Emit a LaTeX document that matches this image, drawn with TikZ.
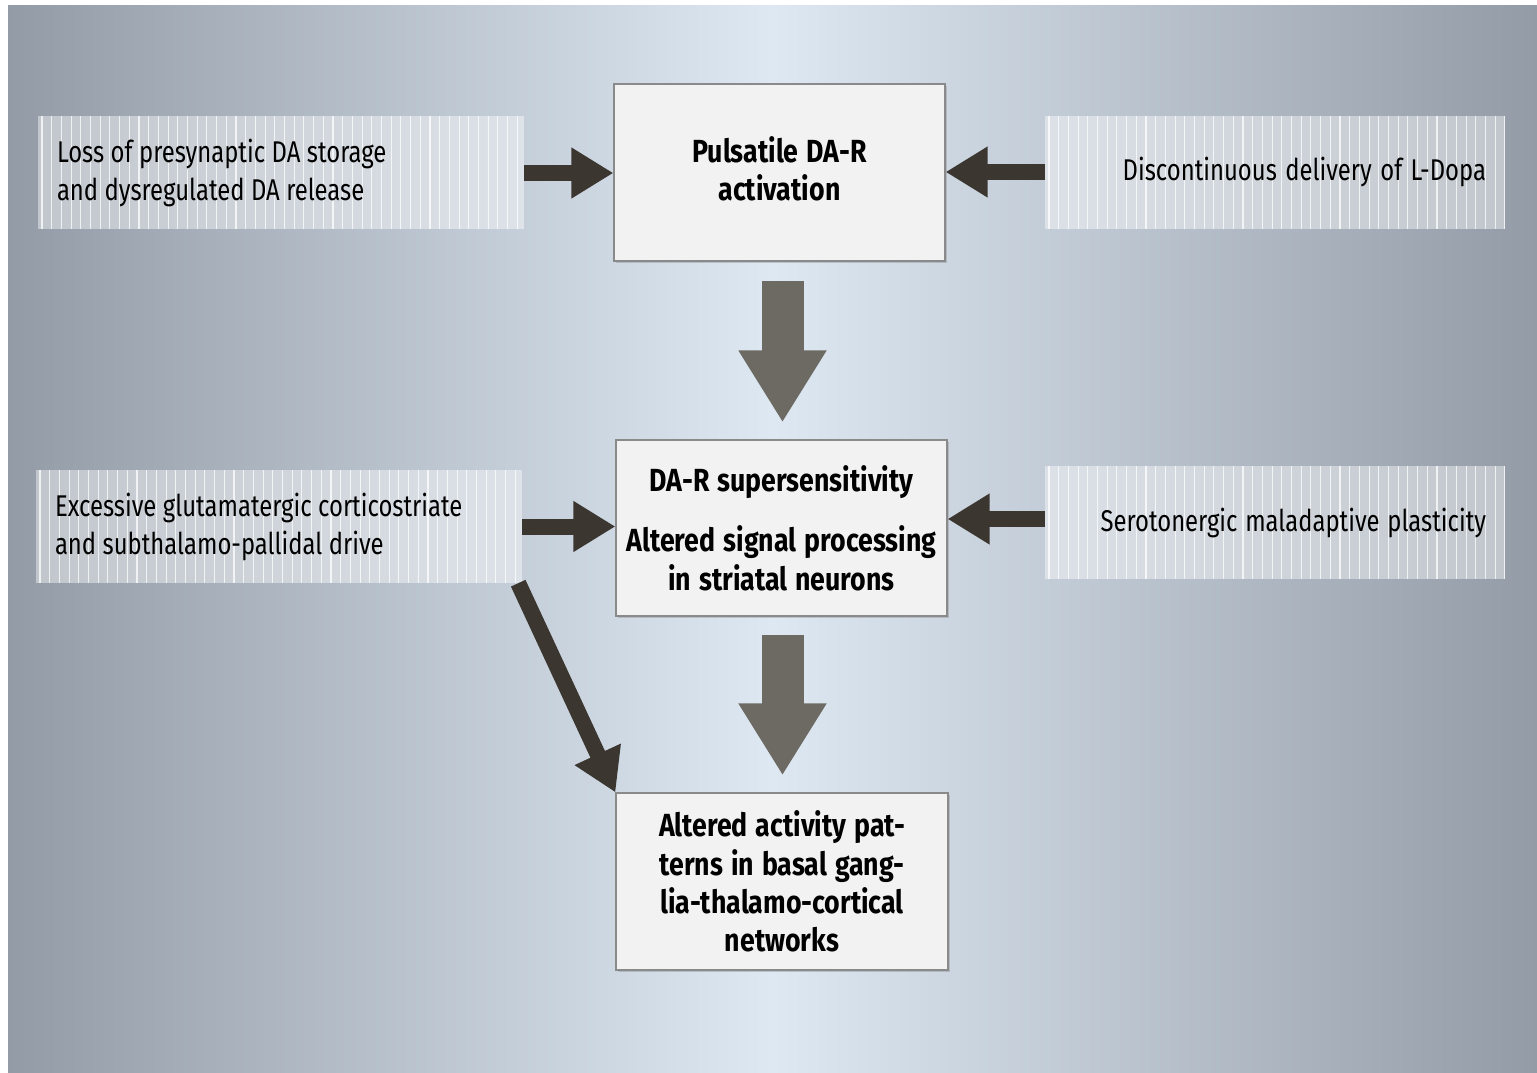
\documentclass[tikz,border=0pt]{standalone}
\usepackage{fontspec}
\setmainfont{Fira Sans}[FakeStretch=0.795]
\newfontfamily\boldfam{Fira Sans}[FakeStretch=0.835]
\usetikzlibrary{arrows.meta,shadows,calc}
\definecolor{bgedge}{HTML}{939CA6}
\definecolor{bgmid}{HTML}{DEE8F2}
\definecolor{darkarrow}{HTML}{3B3630}
\definecolor{grayarrow}{HTML}{6D6A63}
\definecolor{boxfill}{HTML}{F2F2F2}
\definecolor{boxline}{HTML}{8A8A8A}
\tikzset{
  stripebox/.style={minimum height=113pt, inner ysep=0pt, inner xsep=19pt,
    fill=white, fill opacity=0.42, text opacity=1,
    font=\fontsize{30}{38}\selectfont,
    execute at begin node={\spaceskip=6.5pt plus 2pt minus 1pt\relax},
    path picture={
      \foreach \i in {0,...,52}{
        \draw[white, opacity=0.75, line width=1.1pt]
          ([xshift=\i*9.7pt+4pt]path picture bounding box.north west) --
          ([xshift=\i*9.7pt+4pt]path picture bounding box.south west);
      }
    }},
  mainbox/.style={draw=boxline, line width=1.2pt, fill=boxfill,
    minimum width=331pt, minimum height=177pt, inner sep=0pt, align=center,
    font=\boldfam\bfseries\fontsize{32}{38.4}\selectfont,
    execute at begin node={\spaceskip=8pt plus 2pt minus 1pt\relax},
    drop shadow={opacity=0.35, shadow xshift=2pt, shadow yshift=-2pt}},
  darrow/.style={draw=darkarrow, line width=16pt,
    -{Triangle[width=48pt,length=42pt]}},
  garrow/.style={draw=grayarrow, line width=42pt,
    -{Triangle[width=83pt,length=72pt]}}
}
\begin{document}
\begin{tikzpicture}[x=1pt,y=-1pt]
\useasboundingbox (0,0) rectangle (1537,1072);
\fill[white] (0,0) rectangle (1537,1072);
\shade[left color=bgedge, right color=bgedge, middle color=bgmid]
  (8,5) rectangle (1537,1072);

% side boxes
\node[stripebox, text width=448pt, align=left] (lt) at (281,172.5)
  {Loss of presynaptic DA storage\\and dysregulated DA release};
\node[stripebox, text width=422pt, align=right] (rt) at (1275,172)
  {Discontinuous delivery of L-Dopa};
\node[stripebox, text width=448pt, align=left] (lm) at (279,526.5)
  {Excessive glutamatergic corticostriate\\and subthalamo-pallidal drive};
\node[stripebox, text width=422pt, align=right] (rm) at (1275,522.5)
  {Serotonergic maladaptive plasticity};

% main boxes
\node[mainbox] (b1) at (779.5,172.5) {Pulsatile DA-R\\activation\rule[-8pt]{0pt}{8pt}};
\node[mainbox, minimum height=176pt] (b2) at (781.5,528)
  {DA-R supersensitivity\\[22pt]Altered signal processing\\in striatal neurons};
\node[mainbox, minimum width=332pt] (b3) at (782,881.5)
  {Altered activity pat-\\terns in basal gang-\\lia-thalamo-cortical\\networks};

% dark arrows
\draw[darrow] ([yshift=-0.5pt]lt.east) -- ([yshift=-0.5pt]lt.east -| b1.west);
\draw[darrow] (rt.west) -- (rt.west -| b1.east);
\draw[darrow] (lm.east) -- (lm.east -| b2.west);
\draw[darrow] ([yshift=3.5pt]rm.west) -- ([yshift=3.5pt]rm.west -| b2.east);
\draw[darrow] ([xshift=-4pt]lm.south east) -- (b3.north west);

% gray arrows
\draw[garrow, shorten <=19pt, shorten >=17pt]
  ([xshift=3pt]b1.south) -- ([xshift=3pt]b1.south |- b2.north);
\draw[garrow, shorten <=18pt, shorten >=17pt]
  ([xshift=1pt]b2.south) -- ([xshift=1pt]b2.south |- b3.north);
\end{tikzpicture}
\end{document}
